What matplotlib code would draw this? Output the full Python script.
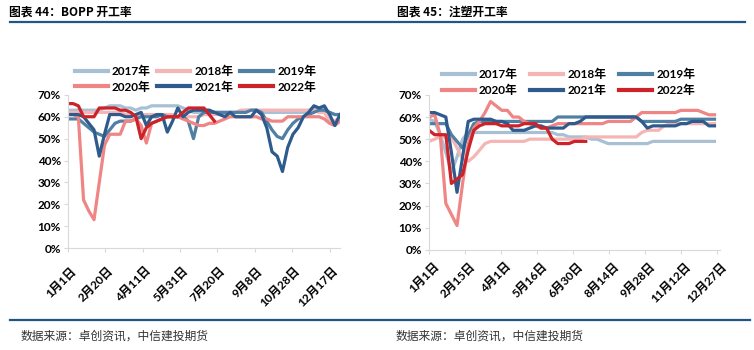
import numpy as np
import matplotlib.pyplot as plt
import matplotlib.transforms as mtransforms
from matplotlib.lines import Line2D

plt.rcParams['font.family'] = ['Lato', 'Noto Sans CJK SC', 'DejaVu Sans']

years = ['2017年', '2018年', '2019年', '2020年', '2021年', '2022年']
colors = ['#a7c0d3', '#f5b5b5', '#4f7fa3', '#f08585', '#2e5b8c', '#cc2229']

# BOPP operating rate (%), weekly
bopp_2017 = [63, 63, 63, 63, 63, 63, 63, 64, 65, 65, 65, 64, 64, 63, 64, 64, 65, 65, 65, 65,
             65, 65, 64, 63, 62, 62, 63, 63, 62, 62, 62, 62, 62, 62, 63, 63, 63, 62, 62, 62,
             62, 62, 62, 62, 62, 62, 63, 64, 64, 63, 62, 61, 61]
bopp_2018 = [62, 62, 62, 62, 62, 62, 62, 62, 62, 62, 62, 61, 61, 61, 61, 61, 61, 61, 61, 61,
             61, 60, 60, 60, 60, 60, 61, 61, 61, 61, 61, 62, 62, 63, 63, 63, 63, 63, 63, 63,
             63, 63, 63, 63, 63, 63, 63, 63, 62, 62, 58, 58, 60]
bopp_2019 = [59, 59, 59, 57, 55, 53, 52, 51, 54, 57, 58, 58, 58, 59, 60, 60, 60, 60, 61, 60,
             60, 60, 60, 58, 50, 60, 62, 62, 62, 62, 62, 62, 62, 62, 62, 63, 63, 62, 58, 54,
             51, 50, 54, 57, 59, 60, 61, 62, 63, 63, 62, 61, 61]
bopp_2020 = [61, 61, 60, 22, 17, 13, 30, 47, 52, 52, 52, 58, 58, 59, 56, 48, 57, 58, 59, 60,
             60, 60, 59, 58, 57, 56, 56, 57, 57, 58, 59, 60, 60, 60, 60, 60, 60, 59, 59, 58,
             58, 58, 60, 60, 60, 60, 60, 60, 60, 59, 57, 56, 58]
bopp_2021 = [61, 61, 61, 60, 57, 54, 42, 52, 61, 61, 61, 60, 60, 61, 62, 56, 60, 61, 61, 53,
             58, 64, 60, 62, 63, 63, 63, 63, 62, 61, 60, 62, 60, 60, 60, 60, 63, 61, 55, 44,
             42, 35, 46, 52, 55, 60, 62, 65, 64, 65, 61, 56, 61]
bopp_2022 = [66, 66, 65, 60, 60, 60, 64, 64, 64, 64, 63, 63, 62, 60, 50, 55, 57, 58, 59, 60,
             60, 60, 62, 64, 64, 64, 64, 61, 58]

# injection moulding operating rate (%), weekly
inj_2017 = [59, 58, 52, 44, 35, 42, 50, 53, 53, 53, 53, 53, 53, 53, 53, 53, 53, 53, 53, 53,
            53, 53, 53, 52, 52, 51, 51, 51, 51, 50, 50, 49, 48, 48, 48, 48, 48, 48, 48, 48,
            49, 49, 49, 49, 49, 49, 49, 49, 49, 49, 49, 49]
inj_2018 = [49, 50, 51, 51, 51, 46, 41, 40, 42, 45, 48, 49, 49, 49, 49, 49, 49, 49, 50, 50,
            50, 50, 50, 50, 50, 50, 50, 50, 51, 51, 51, 51, 51, 51, 51, 51, 51, 51, 53, 54,
            54, 54, 56, 57, 57, 57, 57, 57, 57, 57, 57, 57]
inj_2019 = [57, 57, 57, 57, 52, 49, 46, 52, 57, 58, 58, 58, 58, 58, 58, 58, 58, 58, 58, 58,
            58, 58, 58, 60, 60, 60, 60, 60, 60, 60, 60, 60, 60, 60, 60, 60, 60, 60, 58, 58,
            58, 58, 58, 58, 58, 59, 59, 59, 59, 59, 59, 59]
inj_2020 = [60, 61, 52, 21, 16, 11, 30, 48, 55, 58, 62, 67, 65, 63, 63, 60, 60, 58, 57, 56,
            55, 55, 56, 57, 57, 57, 57, 57, 57, 57, 57, 57, 58, 58, 58, 58, 58, 60, 62, 62,
            62, 62, 62, 62, 62, 63, 63, 63, 63, 62, 61, 61]
inj_2021 = [62, 62, 61, 60, 44, 26, 42, 58, 59, 59, 59, 59, 58, 58, 57, 54, 54, 54, 55, 56,
            56, 55, 55, 55, 55, 57, 57, 58, 60, 60, 60, 60, 60, 60, 60, 60, 60, 60, 58, 55,
            56, 56, 56, 56, 56, 57, 57, 58, 58, 58, 56, 56]
inj_2022 = [54, 52, 52, 52, 30, 32, 34, 45, 54, 56, 57, 57, 57, 56, 56, 56, 56, 57, 57, 57,
            55, 55, 50, 48, 48, 48, 49, 49, 49]

bopp_ticks = ['1月1日', '2月20日', '4月11日', '5月31日', '7月20日', '9月8日', '10月28日', '12月17日']
inj_ticks = ['1月1日', '2月15日', '4月1日', '5月16日', '6月30日', '8月14日', '9月28日', '11月12日', '12月27日']

fig = plt.figure(figsize=(7.54, 3.5), dpi=100)


def draw(ax, series, ticks, step, dx, dy):
    for s, c in zip(series, colors):
        days = np.arange(len(s)) * 7
        ax.plot(days, np.array(s) / 100, color=c, lw=2.3, solid_joinstyle='round')
    ax.set_xlim(0, 364)
    ax.set_ylim(0, 0.7)
    ax.set_yticks(np.arange(0, 0.71, 0.1))
    ax.set_yticklabels(['%d%%' % (v * 10) for v in range(8)], fontsize=8.5, fontweight='bold')
    pos = np.arange(len(ticks)) * step
    ax.set_xticks(pos)
    ax.set_xticklabels([])
    # rotated category labels, anchored by their right end just below each tick
    tr = ax.get_xaxis_transform() + mtransforms.ScaledTranslation(dx / 100, dy / 100,
                                                                   fig.dpi_scale_trans)
    for p, t in zip(pos, ticks):
        ax.text(p, 0, t, transform=tr, rotation=45, ha='right', va='center',
                rotation_mode='anchor', fontsize=8.5, fontweight='bold')
    for sp in ['top', 'right']:
        ax.spines[sp].set_visible(False)
    for sp in ['left', 'bottom']:
        ax.spines[sp].set_color('#d9d9d9')
    ax.tick_params(axis='both', color='#d9d9d9', length=3, pad=2)


ax1 = fig.add_axes([0.090, 0.291, 0.361, 0.438])
draw(ax1, [bopp_2017, bopp_2018, bopp_2019, bopp_2020, bopp_2021, bopp_2022], bopp_ticks, 50, 6, -21)
ax2 = fig.add_axes([0.569, 0.286, 0.386, 0.443])
draw(ax2, [inj_2017, inj_2018, inj_2019, inj_2020, inj_2021, inj_2022], inj_ticks, 45, 8, -15)

order = [0, 3, 1, 4, 2, 5]
handles = [Line2D([], [], color=colors[i], lw=3) for i in order]
labels = [years[i] for i in order]
for xa, ya, cs in [(0.099, 0.774, 0.55), (0.586, 0.765, 1.05)]:
    fig.legend(handles, labels, ncol=3, loc='center left', bbox_to_anchor=(xa, ya),
               frameon=False, prop={'size': 8.5, 'weight': 'bold'},
               handlelength=2.8, handletextpad=0.35, columnspacing=cs,
               labelspacing=0.35, borderaxespad=0, borderpad=0)

# header / footer
fig.text(0.012, 0.965, '图表 44：BOPP 开工率', fontsize=8.5, fontweight='bold', va='center',
         family=['Noto Sans CJK SC', 'DejaVu Sans'])
fig.text(0.527, 0.965, '图表 45：注塑开工率', fontsize=8.5, fontweight='bold', va='center',
         family=['Noto Sans CJK SC', 'DejaVu Sans'])
fig.add_artist(Line2D([0.013, 0.988], [0.938, 0.938], color='#1f5688', lw=1.6))
fig.add_artist(Line2D([0.013, 0.995], [0.086, 0.086], color='#1f5688', lw=1.6))
fig.text(0.027, 0.04, '数据来源：卓创资讯，中信建投期货', fontsize=8.5, color='#333333', va='center',
         family=['Noto Sans CJK SC', 'DejaVu Sans'])
fig.text(0.524, 0.04, '数据来源：卓创资讯，中信建投期货', fontsize=8.5, color='#333333', va='center',
         family=['Noto Sans CJK SC', 'DejaVu Sans'])

fig.savefig('out.png', dpi=100)
